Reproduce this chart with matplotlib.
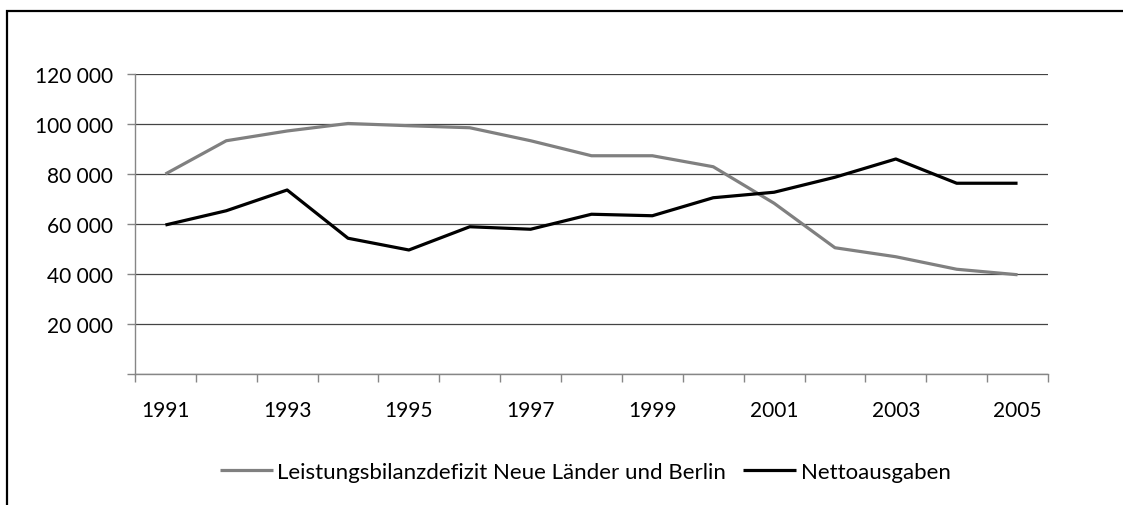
import matplotlib
matplotlib.use('Agg')
import matplotlib.pyplot as plt
from matplotlib.patches import Rectangle
from matplotlib.ticker import FuncFormatter, FixedLocator

years = ['1991', '1992', '1993', '1994', '1995', '1996', '1997', '1998',
         '1999', '2000', '2001', '2002', '2003', '2004', '2005']
defizit = [80000, 93300, 97200, 100200, 99300, 98500, 93300, 87300,
           87300, 82900, 68300, 50500, 46900, 41900, 39700]
netto = [59600, 65300, 73600, 54300, 49600, 58900, 57900, 63900,
         63300, 70500, 72700, 78700, 86000, 76300, 76300]
name_defizit = 'Leistungsbilanzdefizit Neue Länder und Berlin'
name_netto = 'Nettoausgaben'

plt.rcParams['font.family'] = ['Lato', 'DejaVu Sans']

fig = plt.figure(figsize=(11.23, 5.06), dpi=100)
ax = fig.add_axes([0.1202, 0.2589, 0.813, 0.5929])

x = list(range(len(years)))
ax.plot(x, defizit, color='#808080', lw=2.3, label=name_defizit, solid_capstyle='butt')
ax.plot(x, netto, color='black', lw=2.3, label=name_netto, solid_capstyle='butt')

ax.set_xlim(-0.5, len(years) - 0.5)
ax.set_ylim(0, 120000)
ax.set_yticks(range(0, 120001, 20000))
ax.yaxis.set_major_formatter(FuncFormatter(
    lambda v, p: '' if v == 0 else f'{int(v):,}'.replace(',', ' ')))
ax.grid(axis='y', color='#444444', lw=0.9)
ax.set_axisbelow(True)

ax.set_xticks(x[::2])
ax.set_xticklabels(years[::2])
ax.xaxis.set_minor_locator(FixedLocator([i - 0.5 for i in range(len(years) + 1)]))
ax.tick_params(axis='x', which='major', length=0, pad=19, labelsize=15)
ax.tick_params(axis='x', which='minor', length=6, color='#868686', width=1)
ax.tick_params(axis='y', length=6, color='#868686', width=1, labelsize=15, pad=10)

for s in ['top', 'right']:
    ax.spines[s].set_visible(False)
for s in ['left', 'bottom']:
    ax.spines[s].set_color('#868686')
    ax.spines[s].set_linewidth(1)

ax.legend(loc='center', bbox_to_anchor=(0.521, 0.065), bbox_transform=fig.transFigure,
          ncol=2, frameon=False, fontsize=16, handlelength=2.4, handletextpad=0.2,
          columnspacing=0.75)

fig.patches.append(Rectangle((7 / 1123, -0.2), 1.2, 0.2 + 494 / 506, transform=fig.transFigure,
                             fill=False, edgecolor='black', lw=1.6))

fig.savefig('out.png', dpi=100)
